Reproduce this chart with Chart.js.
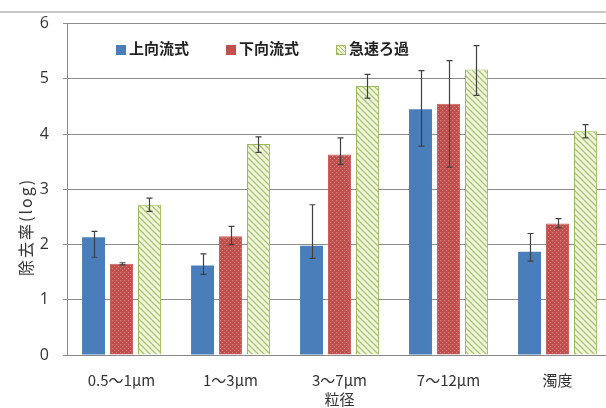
<!DOCTYPE html>
<html>
<head>
<meta charset="utf-8">
<script src="https://cdn.jsdelivr.net/npm/chart.js@4"></script>
<style>
  html, body { margin: 0; padding: 0; background: #fff; overflow: hidden; }
  #wrap { position: relative; width: 612px; height: 408px; }
  #topline { position: absolute; left: 0; top: 11px; width: 612px; height: 0; border-top: 2px solid #c8c8c8; }
  #legend { position: absolute; left: 116px; top: 37px; font-family: "Noto Sans CJK JP", sans-serif; font-size: 15px; font-weight: bold; color: #222; white-space: nowrap; }
  #legend span.item { display: inline-block; margin-right: 37px; }
  #legend i { display: inline-block; width: 10px; height: 10px; margin-right: 3px; vertical-align: -1px; }
  #ytitle { position: absolute; left: 25px; top: 227px; transform: translate(-50%, -50%) rotate(-90deg); font-family: "Noto Sans CJK JP", sans-serif; font-size: 16px; letter-spacing: 2px; color: #333; white-space: nowrap; }
</style>
</head>
<body>
<div id="wrap">
  <canvas id="chart" width="612" height="408"></canvas>
  <div id="topline"></div>
  <div id="legend"></div>
  <div id="ytitle"></div>
</div>
<script>
  const categories = ['0.5～1μm', '1～3μm', '3～7μm', '7～12μm', '濁度'];
  const seriesNames = ['上向流式', '下向流式', '急速ろ過'];
  const yTitle = '除去率(log)';
  const xTitle = '粒径';

  // bar heights
  const upflow = [2.13, 1.62, 1.98, 4.45, 1.87];
  const downflow = [1.65, 2.15, 3.63, 4.55, 2.38];
  const rapid = [2.72, 3.82, 4.87, 5.17, 4.05];

  // error bar ends (low / high)
  const upflowLow = [1.77, 1.46, 1.75, 3.78, 1.70];
  const upflowHigh = [2.24, 1.83, 2.72, 5.15, 2.20];
  const downflowLow = [1.63, 2.00, 3.45, 3.40, 2.30];
  const downflowHigh = [1.67, 2.33, 3.93, 5.33, 2.47];
  const rapidLow = [2.60, 3.67, 4.65, 4.70, 3.93];
  const rapidHigh = [2.84, 3.95, 5.08, 5.60, 4.17];

  const yTicks = [0, 1, 2, 3, 4, 5, 6];

  // dotted red texture
  function dotPattern() {
    const c = document.createElement('canvas');
    c.width = 4; c.height = 4;
    const g = c.getContext('2d');
    g.fillStyle = '#c0504d';
    g.fillRect(0, 0, 4, 4);
    g.fillStyle = '#d9827f';
    g.fillRect(0, 0, 1, 1);
    g.fillRect(2, 2, 1, 1);
    return g.createPattern(c, 'repeat');
  }

  // diagonal green hatch
  function hatchPattern() {
    const c = document.createElement('canvas');
    c.width = 6; c.height = 6;
    const g = c.getContext('2d');
    g.fillStyle = '#f0f6df';
    g.fillRect(0, 0, 6, 6);
    g.strokeStyle = '#a9c46a';
    g.lineWidth = 1.3;
    g.beginPath();
    g.moveTo(-1, -1); g.lineTo(7, 7);
    g.moveTo(-1, 5); g.lineTo(1, 7);
    g.moveTo(5, -1); g.lineTo(7, 1);
    g.stroke();
    return g.createPattern(c, 'repeat');
  }

  const errLow = [upflowLow, downflowLow, rapidLow];
  const errHigh = [upflowHigh, downflowHigh, rapidHigh];

  const errorBars = {
    id: 'errorBars',
    afterDatasetsDraw(chart) {
      const ctx = chart.ctx;
      const y = chart.scales.y;
      ctx.save();
      ctx.strokeStyle = '#404040';
      ctx.lineWidth = 1.2;
      chart.data.datasets.forEach((ds, i) => {
        const meta = chart.getDatasetMeta(i);
        meta.data.forEach((bar, j) => {
          const x = Math.round(bar.x) + 0.5;
          const yl = y.getPixelForValue(errLow[i][j]);
          const yh = y.getPixelForValue(errHigh[i][j]);
          ctx.beginPath();
          ctx.moveTo(x, yl); ctx.lineTo(x, yh);
          ctx.moveTo(x - 3, yl); ctx.lineTo(x + 3, yl);
          ctx.moveTo(x - 3, yh); ctx.lineTo(x + 3, yh);
          ctx.stroke();
        });
      });
      ctx.restore();
    }
  };

  const fills = ['#4a7ebb', dotPattern(), hatchPattern()];
  const borders = ['#4a7ebb', '#c85a57', '#9bbb59'];

  new Chart(document.getElementById('chart'), {
    type: 'bar',
    data: {
      labels: categories,
      datasets: [
        { label: seriesNames[0], data: upflow, backgroundColor: fills[0], borderColor: borders[0], borderWidth: 0 },
        { label: seriesNames[1], data: downflow, backgroundColor: fills[1], borderColor: borders[1], borderWidth: 1 },
        { label: seriesNames[2], data: rapid, backgroundColor: fills[2], borderColor: borders[2], borderWidth: 1 }
      ]
    },
    options: {
      responsive: false,
      animation: false,
      datasets: { bar: { categoryPercentage: 0.77, barPercentage: 0.82 } },
      layout: { padding: { top: 23, right: 0, bottom: 0, left: 0 } },
      plugins: {
        legend: { display: false },
        tooltip: { enabled: false }
      },
      scales: {
        x: {
          afterFit(scale) { scale.height = 53; },
          grid: { display: false, drawTicks: false },
          border: { color: '#888', width: 1 },
          ticks: { color: '#333', font: { family: '"Noto Sans CJK JP", sans-serif', size: 15 }, padding: 16 },
          title: { display: true, text: xTitle, color: '#333', font: { family: '"Noto Sans CJK JP", sans-serif', size: 15 }, padding: { top: 0, bottom: 0 } }
        },
        y: {
          min: 0, max: 6,
          afterFit(scale) { scale.width = 67; },
          afterBuildTicks(scale) { scale.ticks = yTicks.map(v => ({ value: v })); },
          grid: { color: '#8c8c8c', lineWidth: 1, tickLength: 4 },
          border: { color: '#888', width: 1 },
          ticks: { color: '#333', font: { family: '"Open Sans", sans-serif', size: 16 }, padding: 14 }
        }
      }
    },
    plugins: [errorBars]
  });

  document.getElementById('ytitle').textContent = yTitle;

  // legend drawn inside the plot area
  const swatches = [
    'background:#4a7ebb',
    'background:#c0504d',
    'background:repeating-linear-gradient(45deg,#f0f6df 0 2px,#a9c46a 2px 3px);outline:1px solid #9bbb59;outline-offset:-1px'
  ];
  const legend = document.getElementById('legend');
  legend.innerHTML = seriesNames.map((n, i) =>
    `<span class="item"><i style="${swatches[i]}"></i>${n}</span>`).join('');
</script>
</body>
</html>
